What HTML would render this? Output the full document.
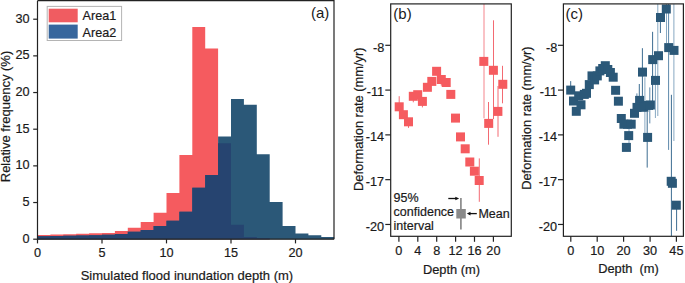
<!DOCTYPE html>
<html><head><meta charset="utf-8"><style>
html,body{margin:0;padding:0;background:#fff;}
svg{display:block;}
text{font-family:"Liberation Sans", sans-serif;fill:#1a1a1a;stroke:#1a1a1a;stroke-width:0.2px;}
.tk{font-size:12.7px;}
.ttl{font-size:13px;}
.ttl2{font-size:12.85px;}
.lg{font-size:12.6px;}
.lg2{font-size:12.5px;}
.pl{font-size:15px;stroke-width:0;}
</style></head><body>
<svg width="685" height="283" viewBox="0 0 685 283">
<rect width="685" height="283" fill="#fff"/>
<path d="M37.50 239.20 L37.50 235.02 L50.40 235.02 L50.40 234.51 L63.30 234.51 L63.30 234.29 L76.20 234.29 L76.20 233.77 L89.10 233.77 L89.10 233.33 L102.00 233.33 L102.00 232.97 L114.90 232.97 L114.90 230.91 L127.80 230.91 L127.80 227.83 L140.70 227.83 L140.70 221.97 L153.60 221.97 L153.60 212.80 L166.50 212.80 L166.50 193.00 L179.40 193.00 L179.40 155.02 L192.30 155.02 L192.30 26.91 L205.20 26.91 L205.20 48.54 L218.10 48.54 L218.10 143.14 L231.00 143.14 L231.00 224.68 L243.90 224.68 L243.90 237.00 L256.80 237.00 L256.80 238.10 L269.70 238.10 L269.70 239.20 L282.60 239.20 L282.60 239.20 L295.50 239.20 L295.50 239.20 L308.40 239.20 L308.40 239.20 L321.30 239.20 L321.30 239.20 L334.20 239.20 L334.20 239.20 Z" fill="#f55b5f"/>
<path d="M37.50 239.20 L37.50 236.27 L50.40 236.27 L50.40 235.97 L63.30 235.97 L63.30 235.83 L76.20 235.83 L76.20 235.53 L89.10 235.53 L89.10 235.17 L102.00 235.17 L102.00 234.80 L114.90 234.80 L114.90 234.07 L127.80 234.07 L127.80 231.87 L140.70 231.87 L140.70 230.03 L153.60 230.03 L153.60 226.00 L166.50 226.00 L166.50 220.87 L179.40 220.87 L179.40 211.63 L192.30 211.63 L192.30 187.87 L205.20 187.87 L205.20 174.89 L218.10 174.89 L218.10 136.54 L231.00 136.54 L231.00 98.92 L243.90 98.92 L243.90 104.79 L256.80 104.79 L256.80 154.14 L269.70 154.14 L269.70 202.02 L282.60 202.02 L282.60 225.93 L295.50 225.93 L295.50 233.48 L308.40 233.48 L308.40 235.17 L321.30 235.17 L321.30 237.00 L334.20 237.00 L334.20 239.20 Z" fill="#2b5878"/>
<path d="M37.50 239.20 L37.50 236.27 L50.40 236.27 L50.40 235.97 L63.30 235.97 L63.30 235.83 L76.20 235.83 L76.20 235.53 L89.10 235.53 L89.10 235.17 L102.00 235.17 L102.00 234.80 L114.90 234.80 L114.90 234.07 L127.80 234.07 L127.80 231.87 L140.70 231.87 L140.70 230.03 L153.60 230.03 L153.60 226.00 L166.50 226.00 L166.50 220.87 L179.40 220.87 L179.40 211.63 L192.30 211.63 L192.30 187.87 L205.20 187.87 L205.20 174.89 L218.10 174.89 L218.10 143.14 L231.00 143.14 L231.00 224.68 L243.90 224.68 L243.90 237.00 L256.80 237.00 L256.80 238.10 L269.70 238.10 L269.70 239.20 L282.60 239.20 L282.60 239.20 L295.50 239.20 L295.50 239.20 L308.40 239.20 L308.40 239.20 L321.30 239.20 L321.30 239.20 L334.20 239.20 L334.20 239.20 Z" fill="#264470"/>
<path d="M37.5 0.7 H334 V239.2 M37.5 0.7 V239.2 H334" fill="none" stroke="#222" stroke-width="1.2"/>
<line x1="33.2" y1="239.20" x2="37.5" y2="239.20" stroke="#222" stroke-width="1.2"/>
<text x="29.6" y="242.70" text-anchor="end" class="tk">0</text>
<line x1="33.2" y1="202.53" x2="37.5" y2="202.53" stroke="#222" stroke-width="1.2"/>
<text x="29.6" y="206.03" text-anchor="end" class="tk">5</text>
<line x1="33.2" y1="165.87" x2="37.5" y2="165.87" stroke="#222" stroke-width="1.2"/>
<text x="29.6" y="169.37" text-anchor="end" class="tk">10</text>
<line x1="33.2" y1="129.20" x2="37.5" y2="129.20" stroke="#222" stroke-width="1.2"/>
<text x="29.6" y="132.70" text-anchor="end" class="tk">15</text>
<line x1="33.2" y1="92.54" x2="37.5" y2="92.54" stroke="#222" stroke-width="1.2"/>
<text x="29.6" y="96.04" text-anchor="end" class="tk">20</text>
<line x1="33.2" y1="55.87" x2="37.5" y2="55.87" stroke="#222" stroke-width="1.2"/>
<text x="29.6" y="59.37" text-anchor="end" class="tk">25</text>
<line x1="33.2" y1="19.21" x2="37.5" y2="19.21" stroke="#222" stroke-width="1.2"/>
<text x="29.6" y="22.71" text-anchor="end" class="tk">30</text>
<line x1="37.50" y1="239.2" x2="37.50" y2="243.4" stroke="#222" stroke-width="1.2"/>
<text x="37.50" y="257.2" text-anchor="middle" class="tk">0</text>
<line x1="102.00" y1="239.2" x2="102.00" y2="243.4" stroke="#222" stroke-width="1.2"/>
<text x="102.00" y="257.2" text-anchor="middle" class="tk">5</text>
<line x1="166.50" y1="239.2" x2="166.50" y2="243.4" stroke="#222" stroke-width="1.2"/>
<text x="166.50" y="257.2" text-anchor="middle" class="tk">10</text>
<line x1="231.00" y1="239.2" x2="231.00" y2="243.4" stroke="#222" stroke-width="1.2"/>
<text x="231.00" y="257.2" text-anchor="middle" class="tk">15</text>
<line x1="295.50" y1="239.2" x2="295.50" y2="243.4" stroke="#222" stroke-width="1.2"/>
<text x="295.50" y="257.2" text-anchor="middle" class="tk">20</text>
<text x="186.9" y="279.5" text-anchor="middle" class="ttl">Simulated flood inundation depth (m)</text>
<text transform="translate(9.8 116.5) rotate(-90)" text-anchor="middle" class="ttl">Relative frequency (%)</text>
<text x="320.2" y="17.6" text-anchor="middle" class="pl">(a)</text>
<rect x="47.2" y="6.4" width="74.4" height="34.1" fill="#fff" stroke="#b4b4b4" stroke-width="1"/>
<rect x="48.7" y="8.7" width="29" height="13.6" fill="#f05c61"/>
<rect x="48.7" y="24.6" width="29" height="14" fill="#37669d"/>
<text x="82.6" y="19.9" class="lg">Area1</text>
<text x="82.6" y="36.7" class="lg">Area2</text>
<svg x="390.7" y="3.9" width="120.60000000000002" height="232.4" viewBox="390.7 3.9 120.60000000000002 232.4" overflow="hidden">
<line x1="399.2" y1="96.2" x2="399.2" y2="106.8" stroke="#f36a72" stroke-width="1"/>
<line x1="408.5" y1="121.8" x2="408.5" y2="127.9" stroke="#f36a72" stroke-width="1"/>
<line x1="413.3" y1="96.3" x2="413.3" y2="102.3" stroke="#f36a72" stroke-width="1"/>
<line x1="422.4" y1="101.4" x2="422.4" y2="107.4" stroke="#f36a72" stroke-width="1"/>
<line x1="441.3" y1="79.5" x2="441.3" y2="85.6" stroke="#f36a72" stroke-width="1"/>
<line x1="479.3" y1="158.4" x2="479.3" y2="201.8" stroke="#f36a72" stroke-width="1"/>
<line x1="484.0" y1="4.0" x2="484.0" y2="118.3" stroke="#f4858c" stroke-width="1"/>
<line x1="488.5" y1="102.0" x2="488.5" y2="144.7" stroke="#f36a72" stroke-width="1"/>
<line x1="493.5" y1="20.3" x2="493.5" y2="119.0" stroke="#f36a72" stroke-width="1"/>
<line x1="498.0" y1="86.0" x2="498.0" y2="136.8" stroke="#f36a72" stroke-width="1"/>
<line x1="502.5" y1="65.8" x2="502.5" y2="103.3" stroke="#f36a72" stroke-width="1"/>
<rect x="394.70" y="102.30" width="9" height="9" fill="#f55b5f"/>
<rect x="398.90" y="110.20" width="9" height="9" fill="#f55b5f"/>
<rect x="404.00" y="117.30" width="9" height="9" fill="#f55b5f"/>
<rect x="408.80" y="91.80" width="9" height="9" fill="#f55b5f"/>
<rect x="413.20" y="90.20" width="9" height="9" fill="#f55b5f"/>
<rect x="417.90" y="96.90" width="9" height="9" fill="#f55b5f"/>
<rect x="422.90" y="82.80" width="9" height="9" fill="#f55b5f"/>
<rect x="427.30" y="76.90" width="9" height="9" fill="#f55b5f"/>
<rect x="432.10" y="66.80" width="9" height="9" fill="#f55b5f"/>
<rect x="436.80" y="75.00" width="9" height="9" fill="#f55b5f"/>
<rect x="441.70" y="78.00" width="9" height="9" fill="#f55b5f"/>
<rect x="446.30" y="89.90" width="9" height="9" fill="#f55b5f"/>
<rect x="451.00" y="113.60" width="9" height="9" fill="#f55b5f"/>
<rect x="456.00" y="132.40" width="9" height="9" fill="#f55b5f"/>
<rect x="460.70" y="144.30" width="9" height="9" fill="#f55b5f"/>
<rect x="465.30" y="157.50" width="9" height="9" fill="#f55b5f"/>
<rect x="469.90" y="166.70" width="9" height="9" fill="#f55b5f"/>
<rect x="474.70" y="176.00" width="9" height="9" fill="#f55b5f"/>
<rect x="479.30" y="56.90" width="9" height="9" fill="#f55b5f"/>
<rect x="484.20" y="118.90" width="9" height="9" fill="#f55b5f"/>
<rect x="488.90" y="65.80" width="9" height="9" fill="#f55b5f"/>
<rect x="493.40" y="106.90" width="9" height="9" fill="#f55b5f"/>
<rect x="498.30" y="79.80" width="9" height="9" fill="#f55b5f"/>
</svg>
<line x1="460.9" y1="197.9" x2="460.9" y2="229.6" stroke="#8a8a8a" stroke-width="1.7"/>
<rect x="456.3" y="209" width="9.5" height="9.5" fill="#8a8a8a"/>
<line x1="448.3" y1="198.5" x2="456.5" y2="198.5" stroke="#111" stroke-width="1.3"/>
<path d="M459.2 198.5 L455.3 196.7 L455.3 200.3 Z" fill="#111"/>
<line x1="469" y1="213.6" x2="476.8" y2="213.6" stroke="#111" stroke-width="1.3"/>
<path d="M466.8 213.6 L470.5 211.8 L470.5 215.4 Z" fill="#111"/>
<text x="478.4" y="218" class="lg2">Mean</text>
<text x="393.6" y="201.5" class="lg2">95%</text>
<text x="393.6" y="215.9" class="lg2">confidence</text>
<text x="393.6" y="229.6" class="lg2">interval</text>
<rect x="390.7" y="3.9" width="120.60000000000002" height="232.4" fill="none" stroke="#222" stroke-width="1.2"/>
<line x1="385.3" y1="45.30" x2="390.7" y2="45.30" stroke="#222" stroke-width="1.2"/>
<text x="384.2" y="51.50" text-anchor="end" class="tk">-8</text>
<line x1="385.3" y1="90.09" x2="390.7" y2="90.09" stroke="#222" stroke-width="1.2"/>
<text x="384.2" y="96.29" text-anchor="end" class="tk">-11</text>
<line x1="385.3" y1="134.88" x2="390.7" y2="134.88" stroke="#222" stroke-width="1.2"/>
<text x="384.2" y="141.08" text-anchor="end" class="tk">-14</text>
<line x1="385.3" y1="179.67" x2="390.7" y2="179.67" stroke="#222" stroke-width="1.2"/>
<text x="384.2" y="185.87" text-anchor="end" class="tk">-17</text>
<line x1="385.3" y1="224.46" x2="390.7" y2="224.46" stroke="#222" stroke-width="1.2"/>
<text x="384.2" y="230.66" text-anchor="end" class="tk">-20</text>
<line x1="398.90" y1="236.3" x2="398.90" y2="241.8" stroke="#222" stroke-width="1.2"/>
<text x="398.90" y="255.4" text-anchor="middle" class="tk">0</text>
<line x1="417.80" y1="236.3" x2="417.80" y2="241.8" stroke="#222" stroke-width="1.2"/>
<text x="417.80" y="255.4" text-anchor="middle" class="tk">4</text>
<line x1="436.70" y1="236.3" x2="436.70" y2="241.8" stroke="#222" stroke-width="1.2"/>
<text x="436.70" y="255.4" text-anchor="middle" class="tk">8</text>
<line x1="455.60" y1="236.3" x2="455.60" y2="241.8" stroke="#222" stroke-width="1.2"/>
<text x="455.60" y="255.4" text-anchor="middle" class="tk">12</text>
<line x1="474.50" y1="236.3" x2="474.50" y2="241.8" stroke="#222" stroke-width="1.2"/>
<text x="474.50" y="255.4" text-anchor="middle" class="tk">16</text>
<line x1="493.40" y1="236.3" x2="493.40" y2="241.8" stroke="#222" stroke-width="1.2"/>
<text x="493.40" y="255.4" text-anchor="middle" class="tk">20</text>
<text x="451.5" y="273.8" text-anchor="middle" class="ttl2">Depth (m)</text>
<text transform="translate(362.6 119.2) rotate(-90)" text-anchor="middle" class="ttl2">Deformation rate (mm/yr)</text>
<text x="402.5" y="18.6" text-anchor="middle" class="pl">(b)</text>
<svg x="563.4" y="3.9" width="120.0" height="232.4" viewBox="563.4 3.9 120.0 232.4" overflow="hidden">
<line x1="570.7" y1="81.1" x2="570.7" y2="90" stroke="#3d6d92" stroke-width="1"/>
<line x1="642.4" y1="48.2" x2="642.4" y2="100" stroke="#3d6d92" stroke-width="1"/>
<line x1="652.6" y1="31.8" x2="652.6" y2="110" stroke="#3d6d92" stroke-width="1"/>
<line x1="657.8" y1="4" x2="657.8" y2="116" stroke="#87a8c2" stroke-width="1"/>
<line x1="660.4" y1="21.9" x2="660.4" y2="33.0" stroke="#3d6d92" stroke-width="1"/>
<line x1="666.5" y1="4" x2="666.5" y2="43" stroke="#87a8c2" stroke-width="1"/>
<line x1="668.6" y1="4" x2="668.6" y2="149.9" stroke="#5d88aa" stroke-width="1"/>
<line x1="673.9" y1="4" x2="673.9" y2="141" stroke="#87a8c2" stroke-width="1"/>
<line x1="671.4" y1="94.8" x2="671.4" y2="236" stroke="#3d6d92" stroke-width="1"/>
<line x1="676.6" y1="205" x2="676.6" y2="230.8" stroke="#3d6d92" stroke-width="1"/>
<line x1="639.3" y1="84" x2="639.3" y2="100" stroke="#3d6d92" stroke-width="1"/>
<line x1="644.9" y1="77.3" x2="644.9" y2="135" stroke="#87a8c2" stroke-width="1"/>
<line x1="649.8" y1="87.4" x2="649.8" y2="123.4" stroke="#5d88aa" stroke-width="1"/>
<line x1="655.4" y1="60" x2="655.4" y2="118" stroke="#87a8c2" stroke-width="1"/>
<line x1="647.2" y1="112" x2="647.2" y2="167.6" stroke="#3d6d92" stroke-width="1"/>
<line x1="629.0" y1="124" x2="629.0" y2="148" stroke="#87a8c2" stroke-width="1"/>
<line x1="636.9" y1="93.4" x2="636.9" y2="110" stroke="#5d88aa" stroke-width="1"/>
<rect x="566.20" y="85.60" width="9" height="9" fill="#2b5878"/>
<rect x="569.00" y="96.50" width="9" height="9" fill="#2b5878"/>
<rect x="571.80" y="106.80" width="9" height="9" fill="#2b5878"/>
<rect x="574.20" y="91.30" width="9" height="9" fill="#2b5878"/>
<rect x="576.50" y="100.30" width="9" height="9" fill="#2b5878"/>
<rect x="579.80" y="89.90" width="9" height="9" fill="#2b5878"/>
<rect x="582.00" y="88.80" width="9" height="9" fill="#2b5878"/>
<rect x="584.80" y="80.10" width="9" height="9" fill="#2b5878"/>
<rect x="587.50" y="71.40" width="9" height="9" fill="#2b5878"/>
<rect x="590.10" y="75.40" width="9" height="9" fill="#2b5878"/>
<rect x="592.80" y="71.40" width="9" height="9" fill="#2b5878"/>
<rect x="595.40" y="66.40" width="9" height="9" fill="#2b5878"/>
<rect x="598.20" y="64.00" width="9" height="9" fill="#2b5878"/>
<rect x="600.80" y="61.20" width="9" height="9" fill="#2b5878"/>
<rect x="603.30" y="65.00" width="9" height="9" fill="#2b5878"/>
<rect x="605.90" y="68.00" width="9" height="9" fill="#2b5878"/>
<rect x="608.70" y="72.70" width="9" height="9" fill="#2b5878"/>
<rect x="611.10" y="85.80" width="9" height="9" fill="#2b5878"/>
<rect x="613.90" y="96.70" width="9" height="9" fill="#2b5878"/>
<rect x="616.80" y="114.00" width="9" height="9" fill="#2b5878"/>
<rect x="619.40" y="119.70" width="9" height="9" fill="#2b5878"/>
<rect x="623.00" y="119.70" width="9" height="9" fill="#2b5878"/>
<rect x="626.70" y="119.70" width="9" height="9" fill="#2b5878"/>
<rect x="624.20" y="131.10" width="9" height="9" fill="#2b5878"/>
<rect x="621.90" y="142.90" width="9" height="9" fill="#2b5878"/>
<rect x="630.00" y="108.80" width="9" height="9" fill="#2b5878"/>
<rect x="632.50" y="102.90" width="9" height="9" fill="#2b5878"/>
<rect x="635.10" y="95.90" width="9" height="9" fill="#2b5878"/>
<rect x="639.40" y="102.80" width="9" height="9" fill="#2b5878"/>
<rect x="644.00" y="100.90" width="9" height="9" fill="#2b5878"/>
<rect x="645.90" y="100.50" width="9" height="9" fill="#2b5878"/>
<rect x="643.10" y="132.90" width="9" height="9" fill="#2b5878"/>
<rect x="638.00" y="67.60" width="9" height="9" fill="#2b5878"/>
<rect x="651.00" y="75.90" width="9" height="9" fill="#2b5878"/>
<rect x="648.20" y="55.10" width="9" height="9" fill="#2b5878"/>
<rect x="654.00" y="51.20" width="9" height="9" fill="#2b5878"/>
<rect x="664.20" y="43.10" width="9" height="9" fill="#2b5878"/>
<rect x="669.50" y="45.90" width="9" height="9" fill="#2b5878"/>
<rect x="656.00" y="13.00" width="9" height="9" fill="#2b5878"/>
<rect x="661.80" y="4.50" width="9" height="9" fill="#2b5878"/>
<rect x="666.70" y="176.80" width="9" height="9" fill="#2b5878"/>
<rect x="667.90" y="178.80" width="9" height="9" fill="#2b5878"/>
<rect x="671.80" y="200.70" width="9" height="9" fill="#2b5878"/>
</svg>
<rect x="563.4" y="3.9" width="120.0" height="232.4" fill="none" stroke="#222" stroke-width="1.2"/>
<line x1="558" y1="45.30" x2="563.4" y2="45.30" stroke="#222" stroke-width="1.2"/>
<text x="557.2" y="51.50" text-anchor="end" class="tk">-8</text>
<line x1="558" y1="90.09" x2="563.4" y2="90.09" stroke="#222" stroke-width="1.2"/>
<text x="557.2" y="96.29" text-anchor="end" class="tk">-11</text>
<line x1="558" y1="134.88" x2="563.4" y2="134.88" stroke="#222" stroke-width="1.2"/>
<text x="557.2" y="141.08" text-anchor="end" class="tk">-14</text>
<line x1="558" y1="179.67" x2="563.4" y2="179.67" stroke="#222" stroke-width="1.2"/>
<text x="557.2" y="185.87" text-anchor="end" class="tk">-17</text>
<line x1="558" y1="224.46" x2="563.4" y2="224.46" stroke="#222" stroke-width="1.2"/>
<text x="557.2" y="230.66" text-anchor="end" class="tk">-20</text>
<line x1="570.80" y1="236.3" x2="570.80" y2="241.8" stroke="#222" stroke-width="1.2"/>
<text x="570.80" y="255.4" text-anchor="middle" class="tk">0</text>
<line x1="597.20" y1="236.3" x2="597.20" y2="241.8" stroke="#222" stroke-width="1.2"/>
<text x="597.20" y="255.4" text-anchor="middle" class="tk">10</text>
<line x1="623.60" y1="236.3" x2="623.60" y2="241.8" stroke="#222" stroke-width="1.2"/>
<text x="623.60" y="255.4" text-anchor="middle" class="tk">20</text>
<line x1="650.10" y1="236.3" x2="650.10" y2="241.8" stroke="#222" stroke-width="1.2"/>
<text x="650.10" y="255.4" text-anchor="middle" class="tk">30</text>
<line x1="676.40" y1="236.3" x2="676.40" y2="241.8" stroke="#222" stroke-width="1.2"/>
<text x="676.40" y="255.4" text-anchor="middle" class="tk">45</text>
<text x="628.5" y="272.6" text-anchor="middle" class="ttl2" xml:space="preserve" style="white-space:pre">Depth  (m)</text>
<text transform="translate(530.7 118.1) rotate(-90)" text-anchor="middle" class="ttl2">Deformation rate (mm/yr)</text>
<text x="574.2" y="18.6" text-anchor="middle" class="pl">(c)</text>
</svg>
</body></html>
